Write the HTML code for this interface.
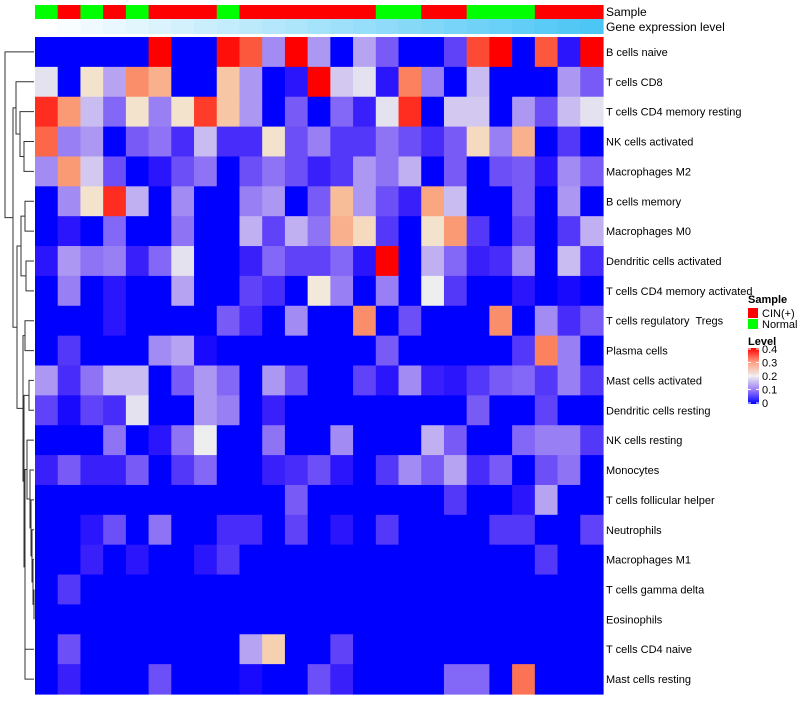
<!DOCTYPE html>
<html><head><meta charset="utf-8">
<style>
html,body{margin:0;padding:0;background:#fff;}
body{width:800px;height:700px;overflow:hidden;font-family:"Liberation Sans",sans-serif;}
text{white-space:pre;}
</style></head>
<body>
<svg id="chart" width="800" height="700" viewBox="0 0 800 700" xmlns="http://www.w3.org/2000/svg" font-family="Liberation Sans, sans-serif">
<g id="dendro" stroke="#333" stroke-width="1" fill="none"></g>
<g id="anno"></g>
<g id="cells"></g>
<g id="rowlabels" font-size="11" fill="#000"></g>
<text x="606" y="16" font-size="12">Sample</text>
<text x="606" y="31" font-size="12">Gene expression level</text>
<g font-size="11">
<text x="748" y="303" font-weight="bold">Sample</text>
<rect x="748" y="308" width="10" height="10" fill="#ff0000"/>
<text x="762" y="317">CIN(+)</text>
<rect x="748" y="319" width="10" height="10" fill="#00ff00"/>
<text x="762" y="328">Normal</text>
<text x="748" y="345" font-weight="bold">Level</text>
<defs><linearGradient id="lg" x1="0" y1="1" x2="0" y2="0"><stop offset="0" stop-color="#0000ff"/><stop offset="0.25" stop-color="#9a7cf8"/><stop offset="0.5" stop-color="#eeeeee"/><stop offset="0.75" stop-color="#ff9e80"/><stop offset="1" stop-color="#ff0000"/></linearGradient></defs>
<rect x="748" y="348" width="11" height="56" fill="url(#lg)"/>
<g id="legticks"></g>
</g>
</svg>
<script>
const rowNames=["B cells naive","T cells CD8","T cells CD4 memory resting","NK cells activated","Macrophages M2","B cells memory","Macrophages M0","Dendritic cells activated","T cells CD4 memory activated","T cells regulatory  Tregs","Plasma cells","Mast cells activated","Dendritic cells resting","NK cells resting","Monocytes","T cells follicular helper","Neutrophils","Macrophages M1","T cells gamma delta","Eosinophils","T cells CD4 naive","Mast cells resting"];
const sampleGroups=["N","C","N","C","N","C","C","C","N","C","C","C","C","C","C","N","N","C","C","N","N","N","C","C","C"];
const levelTicks=[0,0.1,0.2,0.3,0.4];
const r0=[0,0,0,0,0,0.4,0,0,0.39,0.34,0.12,0.4,0.13,0,0.14,0.08,0,0,0.06,0.35,0.4,0,0.34,0.02,0.4];
const r1=[0.19,0,0.22,0.14,0.3,0.27,0,0,0.25,0.13,0,0.02,0.4,0.17,0.19,0.02,0.31,0.11,0,0.16,0,0,0,0.13,0.08];
const r2=[0.37,0.29,0.16,0.09,0.22,0.11,0.22,0.36,0.25,0.13,0,0.08,0,0.09,0.03,0.19,0.37,0,0.17,0.17,0,0.13,0.07,0.16,0.19];
const r3=[0.33,0.11,0.13,0,0.08,0.1,0.04,0.16,0.04,0.04,0.22,0.07,0.11,0.05,0.05,0.1,0.07,0.04,0.08,0.23,0.11,0.27,0,0.05,0];
const r4=[0.12,0.29,0.17,0.07,0,0.02,0.07,0.1,0,0.07,0.1,0.07,0.03,0.05,0.13,0.1,0.15,0,0.08,0,0.07,0.08,0.02,0.12,0.08];
const r5=[0,0.12,0.22,0.37,0.15,0,0.12,0,0,0.11,0.13,0,0.08,0.26,0.13,0.07,0.03,0.28,0.16,0,0,0.08,0,0.13,0];
const r6=[0,0.02,0,0.09,0,0,0.1,0,0,0.15,0.06,0.15,0.1,0.27,0.23,0.05,0,0.22,0.29,0.05,0,0.06,0,0.05,0.15];
const r7=[0.02,0.13,0.1,0.11,0.03,0.09,0.19,0,0,0.03,0.09,0.06,0.06,0.09,0.02,0.4,0,0.15,0.09,0.03,0.04,0.12,0,0.16,0.04];
const r8=[0,0.11,0,0.02,0,0,0.14,0,0,0.06,0.04,0,0.21,0.11,0,0.11,0,0.2,0.05,0,0,0.02,0,0.01,0];
const r9=[0,0,0,0.02,0,0,0,0,0.08,0.04,0,0.12,0,0,0.3,0,0.07,0,0,0,0.3,0,0.12,0.04,0.08];
const r10=[0,0.05,0,0,0,0.12,0.14,0.01,0,0,0,0,0,0,0,0.08,0,0,0,0,0,0.05,0.31,0.11,0];
const r11=[0.13,0.04,0.1,0.16,0.16,0,0.08,0.13,0.09,0,0.13,0.07,0,0,0.06,0.02,0.12,0.03,0.02,0.05,0.08,0.09,0.05,0.11,0.05];
const r12=[0.06,0.01,0.06,0.04,0.19,0,0,0.13,0.11,0,0.03,0,0,0,0,0,0,0,0,0.08,0,0,0.06,0,0];
const r13=[0,0,0,0.1,0,0.02,0.1,0.2,0,0,0.1,0,0,0.12,0,0,0,0.15,0.08,0,0,0.09,0.11,0.11,0.05];
const r14=[0.03,0.08,0.03,0.03,0.08,0,0.05,0.09,0,0,0.03,0.04,0.07,0.02,0,0.05,0.12,0.08,0.14,0.04,0.08,0,0.07,0.1,0];
const r15=[0,0,0,0,0,0,0,0,0,0,0,0.08,0,0,0,0,0,0,0.05,0,0,0.02,0.14,0,0];
const r16=[0,0,0.02,0.07,0,0.1,0,0,0.04,0.04,0,0.06,0,0.02,0,0.05,0,0,0,0,0.05,0.05,0,0,0.06];
const r17=[0,0,0.03,0,0.02,0,0,0.02,0.05,0,0,0,0,0,0,0,0,0,0,0,0,0,0.05,0,0];
const r18=[0,0.05,0,0,0,0,0,0,0,0,0,0,0,0,0,0,0,0,0,0,0,0,0,0,0];
const r19=[0,0,0,0,0,0,0,0,0,0,0,0,0,0,0,0,0,0,0,0,0,0,0,0,0];
const r20=[0,0.07,0,0,0,0,0,0,0,0.14,0.24,0,0,0.06,0,0,0,0,0,0,0,0,0,0,0];
const r21=[0,0.03,0,0,0,0.07,0,0,0,0.01,0,0,0.07,0.03,0,0,0,0,0.09,0.09,0,0.32,0,0,0];
const values=[r0,r1,r2,r3,r4,r5,r6,r7,r8,r9,r10,r11,r12,r13,r14,r15,r16,r17,r18,r19,r20,r21];

const NS="http://www.w3.org/2000/svg";
const X0=35,X1=603,Y0=37,Y1=694;
const nCol=sampleGroups.length,nRow=rowNames.length;
const cw=(X1-X0)/nCol,rh=(Y1-Y0)/nRow;
const xPos=c=>X0+c*cw, yPos=r=>Y0+r*rh;
function mk(tag,attrs,parent){const e=document.createElementNS(NS,tag);for(const k in attrs)e.setAttribute(k,attrs[k]);parent.appendChild(e);return e;}
function lerp(a,b,t){return Math.round(a+(b-a)*t);}
function color(v){
  const t=Math.max(0,Math.min(1,v/0.4));
  let c;
  if(t<0.5){const s=Math.pow(t/0.5,0.75);c=[lerp(0,238,s),lerp(0,238,Math.pow(t/0.5,1.05)),lerp(255,238,s)];}
  else{const s=(t-0.5)/0.5;c=[lerp(238,255,Math.pow(s,0.5)),lerp(238,0,Math.pow(s,1.3)),lerp(238,0,Math.pow(s,0.85))];}
  return `rgb(${c[0]},${c[1]},${c[2]})`;
}
const cells=document.getElementById('cells');
for(let r=0;r<nRow;r++){for(let c=0;c<nCol;c++){
  const el=mk('rect',{x:xPos(c),y:yPos(r),width:cw+0.6,height:rh+0.6,fill:color(values[r][c])},cells);
  
  
}}
const anno=document.getElementById('anno');
for(let c=0;c<nCol;c++){
  const s=mk('rect',{x:xPos(c),y:5,width:cw+0.6,height:14,fill:sampleGroups[c]==="C"?"#ff0000":"#00ff00"},anno);
  
  
  const t=c/(nCol-1);
  const g=mk('rect',{x:xPos(c),y:19,width:cw+0.6,height:15,fill:`rgb(${lerp(255,75,t)},${lerp(255,198,t)},${lerp(255,245,t)})`},anno);
  
  
}
const rl=document.getElementById('rowlabels');
rowNames.forEach((n,r)=>{
  const t=mk('text',{x:606,y:yPos(r)+rh/2+4},rl);t.textContent=n;
  
  
});
const lt=document.getElementById('legticks');
levelTicks.forEach(v=>{
  const y=404-v/0.4*54-1;
  mk('line',{x1:748,x2:751,y1:y,y2:y,stroke:'#fff'},lt);
  mk('line',{x1:756,x2:759,y1:y,y2:y,stroke:'#fff'},lt);
  const t=mk('text',{x:762,y:y+4,'font-size':11},lt);t.textContent=String(v);
  
  
});
const tree=[5,0,[13,[16,1,[20,2,[24,3,4]]],[17,[21,[25,5,6],[26,7,8]],[23,[25,9,10],[24,[29,11,12],[25,[27,13,[30,14,[31,15,[32,16,[33,17,[34,18,19]]]]]],[25,20,21]]]]]]];
const dg=document.getElementById('dendro');
function draw(n){
  if(typeof n==='number')return{x:34,y:yPos(n)+rh/2};
  const a=draw(n[1]),b=draw(n[2]),x=n[0];
  mk('path',{d:`M${a.x},${a.y}H${x}V${b.y}H${b.x}`},dg);
  return{x:x,y:(a.y+b.y)/2};
}
draw(tree);
</script>
</body></html>
